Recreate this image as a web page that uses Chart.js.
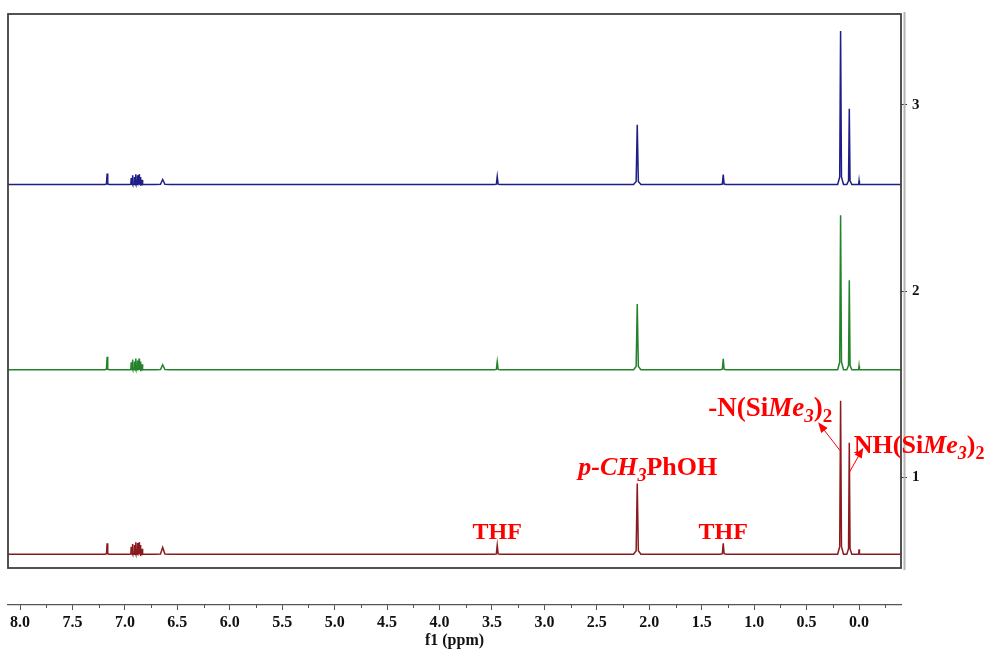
<!DOCTYPE html>
<html>
<head>
<meta charset="utf-8">
<script src="https://cdn.jsdelivr.net/npm/chart.js@4.4.1/dist/chart.umd.min.js"></script>
<style>
  html, body { margin: 0; padding: 0; background: #fff; }
  #wrap { width: 987px; height: 650px; }
</style>
</head>
<body>
<div id="wrap"><canvas id="nmr"></canvas></div>
<script>
// ppm axis range (reversed, as usual for NMR)
const ppmMin = -0.40;
const ppmMax = 8.115;
const xTickStep = 0.5;

// right axis (spectrum index) range
const yMin = 0.316;
const yMax = 3.487;
const yTicks = [1, 2, 3];

// peak positions (ppm) and half widths, shared by the three spectra
const peakPpm   = [7.17, 6.94, 6.925, 6.91, 6.895, 6.88, 6.865, 6.85, 6.835, 6.64, 3.45, 2.115, 1.295, 0.176, 0.093, 0.0];
const peakWidth = [0.02, 0.012, 0.012, 0.012, 0.012, 0.012, 0.012, 0.012, 0.012, 0.07, 0.028, 0.035, 0.028, 0.028, 0.024, 0.012];

// peak heights for each spectrum
const blueHeights  = [0.059, 0.035, 0.05, 0.04, 0.055, 0.05, 0.055, 0.04, 0.025, 0.027, 0.043, 0.321, 0.053, 0.824, 0.406, 0.02];
const greenHeights = [0.070, 0.040, 0.055, 0.045, 0.06, 0.05, 0.06, 0.045, 0.03, 0.027, 0.043, 0.353, 0.059, 0.829, 0.481, 0.02];
const redHeights   = [0.059, 0.040, 0.055, 0.05, 0.065, 0.06, 0.065, 0.05, 0.03, 0.037, 0.048, 0.380, 0.059, 0.824, 0.599, 0.027];

// baseline of each trace on the right axis
const baselines = [2.572, 1.578, 0.588];
const colors = ["#1e1e86", "#23822a", "#8a1a1e"];

// annotations: [ppm, y value]
const thfLabels = [[3.45, 0.672], [1.295, 0.672]];
const cresolLabel = [2.015, 1.012];
const nSiLabel = [0.255, 1.33];
const nhSiLabel = [0.05, 1.134];
const arrows = [
  [[0.18, 1.144], [0.39, 1.296]],
  [[0.093, 1.027], [-0.04, 1.16]],
];

// build one trace from peak list
function buildTrace(heights, base) {
  const pts = [{ x: ppmMax, y: base }, { x: ppmMin, y: base }];
  peakPpm.forEach((p, i) => {
    const w = peakWidth[i], h = heights[i];
    pts.push({ x: p + w, y: base });
    pts.push({ x: p + w * 0.3, y: base + h * 0.05 });
    pts.push({ x: p, y: base + h });
    pts.push({ x: p - w * 0.3, y: base + h * 0.05 });
    pts.push({ x: p - w, y: base });
  });
  pts.sort((a, b) => b.x - a.x);
  return pts;
}

const traces = [blueHeights, greenHeights, redHeights].map((h, i) => buildTrace(h, baselines[i]));

// rich text helper
function drawRich(ctx, segs, x, y, align, size) {
  const sub = Math.round(size * 0.7);
  const fontOf = s => `${s.italic ? "italic " : ""}bold ${s.sub ? sub : size}px "Liberation Serif", "Times New Roman", serif`;
  let total = 0;
  segs.forEach(s => { ctx.font = fontOf(s); total += ctx.measureText(s.t).width; });
  let cx = align === "center" ? x - total / 2 : align === "right" ? x - total : x;
  ctx.textAlign = "left";
  ctx.textBaseline = "alphabetic";
  segs.forEach(s => {
    ctx.font = fontOf(s);
    ctx.fillText(s.t, cx, y + (s.sub ? 6 : 0));
    cx += ctx.measureText(s.t).width;
  });
}

function drawArrow(ctx, x1, y1, x2, y2) {
  const ang = Math.atan2(y2 - y1, x2 - x1);
  const hl = 11;
  ctx.beginPath();
  ctx.moveTo(x1, y1);
  ctx.lineTo(x2 - Math.cos(ang) * hl * 0.8, y2 - Math.sin(ang) * hl * 0.8);
  ctx.stroke();
  ctx.beginPath();
  ctx.moveTo(x2, y2);
  ctx.lineTo(x2 - hl * Math.cos(ang - 0.38), y2 - hl * Math.sin(ang - 0.38));
  ctx.lineTo(x2 - hl * Math.cos(ang + 0.38), y2 - hl * Math.sin(ang + 0.38));
  ctx.closePath();
  ctx.fill();
}

const decor = {
  id: "decor",
  afterDraw(chart) {
    const { ctx, chartArea: a, scales } = chart;
    const xs = scales.x, ys = scales.y;
    ctx.save();
    // frame around the spectra
    const boxBottom = a.bottom - 37;
    ctx.strokeStyle = "#404040";
    ctx.lineWidth = 1.8;
    ctx.strokeRect(a.left, a.top, a.right - a.left, boxBottom - a.top);
    // right axis line
    ctx.strokeStyle = "#b4b4b4";
    ctx.lineWidth = 2;
    ctx.beginPath();
    ctx.moveTo(a.right + 3.5, a.top - 2);
    ctx.lineTo(a.right + 3.5, boxBottom + 2);
    ctx.stroke();
    // minor ppm ticks
    ctx.strokeStyle = "#555";
    ctx.lineWidth = 1;
    for (let v = -0.25; v < ppmMax; v += xTickStep) {
      const px = Math.round(xs.getPixelForValue(v)) + 0.5;
      ctx.beginPath();
      ctx.moveTo(px, a.bottom);
      ctx.lineTo(px, a.bottom + 3);
      ctx.stroke();
    }

    // annotations
    ctx.fillStyle = "#f00";
    ctx.strokeStyle = "#f00";
    ctx.lineWidth = 1;
    thfLabels.forEach(([p, v]) => {
      drawRich(ctx, [{ t: "THF" }], xs.getPixelForValue(p), ys.getPixelForValue(v), "center", 24);
    });
    drawRich(ctx, [
      { t: "p-CH", italic: true },
      { t: "3", italic: true, sub: true },
      { t: "PhOH" },
    ], xs.getPixelForValue(cresolLabel[0]), ys.getPixelForValue(cresolLabel[1]), "center", 26);
    drawRich(ctx, [
      { t: "-N(Si" },
      { t: "Me", italic: true },
      { t: "3", italic: true, sub: true },
      { t: ")" },
      { t: "2", sub: true },
    ], xs.getPixelForValue(nSiLabel[0]), ys.getPixelForValue(nSiLabel[1]), "right", 27);
    drawRich(ctx, [
      { t: "NH(Si" },
      { t: "Me", italic: true },
      { t: "3", italic: true, sub: true },
      { t: ")" },
      { t: "2", sub: true },
    ], xs.getPixelForValue(nhSiLabel[0]), ys.getPixelForValue(nhSiLabel[1]), "left", 26);
    arrows.forEach(([from, to]) => {
      drawArrow(ctx,
        xs.getPixelForValue(from[0]), ys.getPixelForValue(from[1]),
        xs.getPixelForValue(to[0]), ys.getPixelForValue(to[1]));
    });
    ctx.restore();
  }
};

const axisFont = { family: '"Liberation Serif", "Times New Roman", serif', weight: "bold", size: 16 };

new Chart(document.getElementById("nmr"), {
  type: "line",
  data: {
    datasets: traces.map((t, i) => ({
      data: t,
      borderColor: colors[i],
      borderWidth: 1.5,
      pointRadius: 0,
      tension: 0,
      fill: false,
    })),
  },
  options: {
    responsive: true,
    maintainAspectRatio: false,
    animation: false,
    parsing: false,
    layout: { padding: { left: 8, top: 12, right: 0, bottom: 0 } },
    plugins: { legend: { display: false }, tooltip: { enabled: false } },
    scales: {
      x: {
        type: "linear",
        reverse: true,
        min: ppmMin,
        max: ppmMax,
        border: { display: true, color: "#555", width: 1.2 },
        grid: { drawOnChartArea: false, tickLength: 5, color: "#555" },
        ticks: {
          stepSize: xTickStep,
          includeBounds: false,
          autoSkip: false,
          maxRotation: 0,
          padding: 3,
          color: "#111",
          font: axisFont,
          callback: v => Math.abs(v).toFixed(1),
        },
        title: { display: true, text: "f1 (ppm)", color: "#111", font: axisFont, padding: 0 },
        afterFit: s => { s.height = 45; },
      },
      y: {
        type: "linear",
        position: "right",
        min: yMin,
        max: yMax,
        border: { display: false },
        grid: { drawOnChartArea: false, tickLength: 6, color: "#333" },
        afterBuildTicks: s => { s.ticks = yTicks.map(v => ({ value: v })); },
        ticks: {
          padding: 5,
          color: "#111",
          font: { family: '"Liberation Serif", "Times New Roman", serif', weight: "bold", size: 15 },
        },
        afterFit: s => { s.width = 86; },
      },
    },
  },
  plugins: [decor],
});
</script>
</body>
</html>
